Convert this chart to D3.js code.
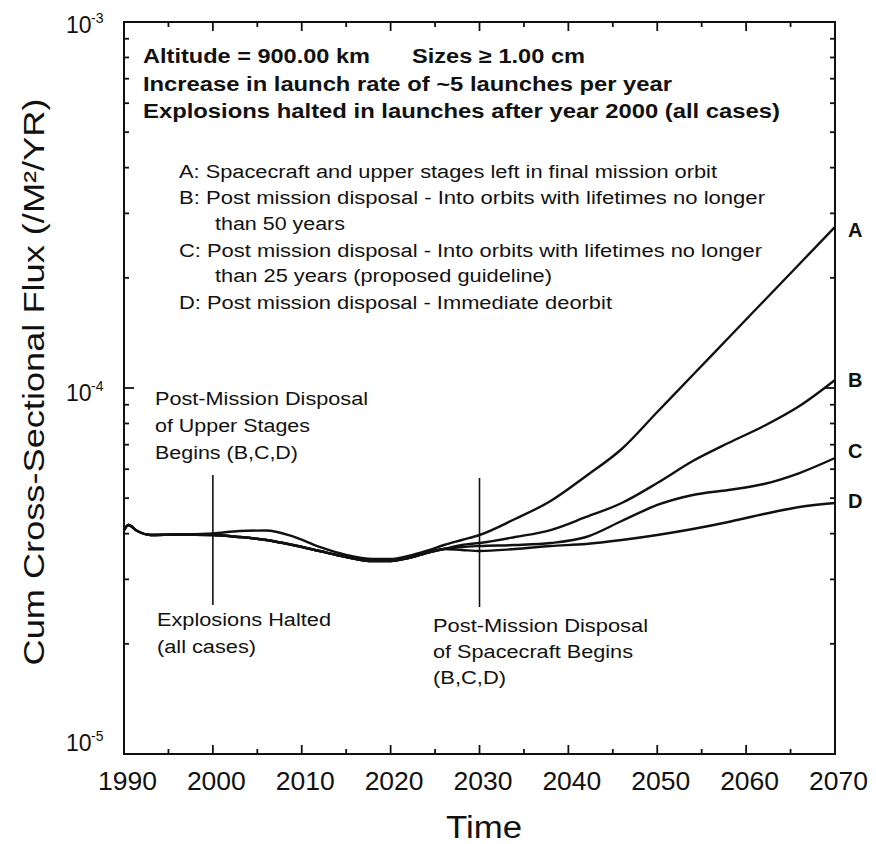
<!DOCTYPE html>
<html><head><meta charset="utf-8">
<script src="https://cdn.jsdelivr.net/npm/d3@7"></script>
<style>
html,body{margin:0;padding:0;background:#fff;}
svg{display:block;}
text{font-family:"Liberation Sans",Arial,Helvetica,sans-serif;fill:#111;}
</style></head>
<body>
<svg id="chart" width="876" height="844"></svg>
<script>
// ---- data (flux values in units of 1e-5 /m^2/yr) ----
const unit = 1e-5;
const years = [1990, 1990.5, 1991.5, 1993, 1996, 2000, 2003, 2006, 2009, 2012, 2015, 2018, 2020, 2022, 2024, 2026, 2028, 2030, 2034, 2038, 2042, 2046, 2050, 2054, 2058, 2062, 2066, 2070];
const seriesA = [4.092, 4.223, 4.067, 3.966, 3.978, 4.004, 4.067, 4.080, 3.930, 3.678, 3.497, 3.410, 3.410, 3.475, 3.586, 3.724, 3.843, 3.966, 4.386, 4.912, 5.749, 6.813, 8.599, 10.85, 13.70, 17.29, 21.82, 27.54];
const seriesB = [4.092, 4.223, 4.067, 3.966, 3.978, 3.966, 3.916, 3.843, 3.724, 3.586, 3.453, 3.367, 3.367, 3.431, 3.541, 3.632, 3.724, 3.771, 3.916, 4.092, 4.442, 4.850, 5.501, 6.318, 7.075, 7.873, 8.929, 10.52];
const seriesC = [4.092, 4.223, 4.067, 3.966, 3.978, 3.966, 3.916, 3.843, 3.724, 3.586, 3.453, 3.367, 3.367, 3.431, 3.541, 3.632, 3.678, 3.701, 3.724, 3.771, 3.916, 4.331, 4.790, 5.101, 5.264, 5.467, 5.858, 6.438];
const seriesD = [4.092, 4.223, 4.067, 3.966, 3.978, 3.966, 3.916, 3.843, 3.724, 3.586, 3.453, 3.367, 3.367, 3.431, 3.541, 3.632, 3.609, 3.586, 3.632, 3.701, 3.748, 3.843, 3.966, 4.118, 4.304, 4.526, 4.730, 4.850];
const seriesNames = ["A", "B", "C", "D"];
const xTicks = [1990, 2000, 2010, 2020, 2030, 2040, 2050, 2060, 2070];
const yTickExps = [-3, -4, -5];
const markerYears = [2000, 2030];

const headerLines = ["Altitude = 900.00 km", "Sizes \u2265 1.00 cm",
  "Increase in launch rate of ~5 launches per year",
  "Explosions halted in launches after year 2000 (all cases)"];
const legendLines = ["A: Spacecraft and upper stages left in final mission orbit",
  "B: Post mission disposal - Into orbits with lifetimes no longer",
  "than 50 years",
  "C: Post mission disposal - Into orbits with lifetimes no longer",
  "than 25 years (proposed guideline)",
  "D: Post mission disposal - Immediate deorbit"];
const noteUpper = ["Post-Mission Disposal", "of Upper Stages", "Begins (B,C,D)"];
const noteExpl = ["Explosions Halted", "(all cases)"];
const noteSpace = ["Post-Mission Disposal", "of Spacecraft Begins", "(B,C,D)"];

// ---- layout ----
const L = 124, R = 835, T = 22, B = 754;
const svg = d3.select("#chart");
const x = d3.scaleLinear().domain([1990, 2070]).range([L, R]);
const y = d3.scaleLog().domain([1e-5, 1e-3]).range([B, T]);

function stretchText(sel, txt, px, py, width, size, weight) {
  return sel.append("text").attr("x", px).attr("y", py)
    .attr("font-size", size).attr("font-weight", weight || "normal")
    .attr("textLength", width).attr("lengthAdjust", "spacingAndGlyphs")
    .text(txt);
}

// ---- ticks (inward on all four sides) ----
const tk = svg.append("g").attr("stroke", "#111").attr("stroke-width", 1.8);
const xMinor = d3.range(1995, 2070, 10);
const xAll = xTicks.map(v => ({ v, len: 9 })).concat(xMinor.map(v => ({ v, len: 5 })));
[[B, -1], [T, 1]].forEach(([base, dir]) => {
  tk.append("g").selectAll("line").data(xAll).join("line")
    .attr("x1", d => x(d.v)).attr("x2", d => x(d.v))
    .attr("y1", base).attr("y2", d => base + dir * d.len);
});
const yAll = yTickExps.map(e => ({ v: Math.pow(10, e), len: 10 }));
[-5, -4].forEach(e => { for (let k = 2; k <= 9; k++) yAll.push({ v: k * Math.pow(10, e), len: 5 }); });
[[L, 1], [R, -1]].forEach(([base, dir]) => {
  tk.append("g").selectAll("line").data(yAll).join("line")
    .attr("y1", d => y(d.v)).attr("y2", d => y(d.v))
    .attr("x1", base).attr("x2", d => base + dir * d.len);
});

// frame
svg.append("rect").attr("x", L).attr("y", T).attr("width", R - L).attr("height", B - T)
  .attr("fill", "none").attr("stroke", "#111").attr("stroke-width", 2);

// x tick labels
svg.append("g").selectAll("text").data(xTicks).join("text")
  .attr("x", d => x(d) + 3.5).attr("y", 790)
  .attr("text-anchor", "middle").attr("font-size", 25)
  .attr("textLength", 59).attr("lengthAdjust", "spacingAndGlyphs")
  .text(d => d);

// y tick labels 10^e
const yLabDy = { "-3": 11, "-4": 13, "-5": -3 };
const yl = svg.append("g").selectAll("g").data(yTickExps).join("g");
yl.append("text").attr("x", 66).attr("y", d => y(Math.pow(10, d)) + yLabDy[d])
  .attr("font-size", 23).text("10");
yl.append("text").attr("x", 91).attr("y", d => y(Math.pow(10, d)) + yLabDy[d] - 10)
  .attr("font-size", 14).text(d => "-" + Math.abs(d));

// axis titles
svg.append("text").attr("transform", `translate(44,382) rotate(-90)`)
  .attr("text-anchor", "middle").attr("font-size", 29)
  .attr("textLength", 567).attr("lengthAdjust", "spacingAndGlyphs")
  .text("Cum Cross-Sectional Flux (/M\u00B2/YR)");
svg.append("text").attr("x", 484).attr("y", 838).attr("text-anchor", "middle")
  .attr("font-size", 31).attr("textLength", 76).attr("lengthAdjust", "spacingAndGlyphs")
  .text("Time");

// ---- curves ----
const allSeries = [seriesA, seriesB, seriesC, seriesD];
const line = d3.line().x((d, i) => x(years[i])).y(d => y(d * unit)).curve(d3.curveMonotoneX);
svg.append("g").selectAll("path").data(allSeries).join("path")
  .attr("d", d => line(d)).attr("fill", "none").attr("stroke", "#111")
  .attr("stroke-width", 2.4).attr("stroke-linejoin", "round");

// curve end labels
const endDy = [10, 7, 0, 5];
svg.append("g").selectAll("text").data(seriesNames).join("text")
  .attr("x", 848).attr("y", (d, i) => y(allSeries[i][allSeries[i].length - 1] * unit) + endDy[i])
  .attr("font-size", 20).attr("font-weight", "bold").text(d => d);

// marker lines
const mTop = [475, 478], mBot = [605, 607];
svg.append("g").selectAll("line").data(markerYears).join("line")
  .attr("x1", d => x(d)).attr("x2", d => x(d))
  .attr("y1", (d, i) => mTop[i]).attr("y2", (d, i) => mBot[i])
  .attr("stroke", "#111").attr("stroke-width", 1.6);

// ---- header text (bold) ----
stretchText(svg, headerLines[0], 143, 63, 227, 20, "bold");
stretchText(svg, headerLines[1], 412, 63, 173, 20, "bold");
stretchText(svg, headerLines[2], 143, 91, 529, 20, "bold");
stretchText(svg, headerLines[3], 143, 118, 637, 20, "bold");

// legend text
const legX = [179, 179, 215, 179, 215, 179];
const legY = [178, 204, 230, 257, 282, 309];
const legW = [538, 586, 130, 583, 337, 433];
legendLines.forEach((t, i) => stretchText(svg, t, legX[i], legY[i], legW[i], 18));

// annotations
const upW = [213, 155, 143], upY = [405, 432, 459];
noteUpper.forEach((t, i) => stretchText(svg, t, 155, upY[i], upW[i], 18));
const exW = [174, 99], exY = [626, 653];
noteExpl.forEach((t, i) => stretchText(svg, t, 157, exY[i], exW[i], 18));
const spW = [215, 200, 73], spY = [632, 658, 684];
noteSpace.forEach((t, i) => stretchText(svg, t, 433, spY[i], spW[i], 18));
</script>
</body></html>
